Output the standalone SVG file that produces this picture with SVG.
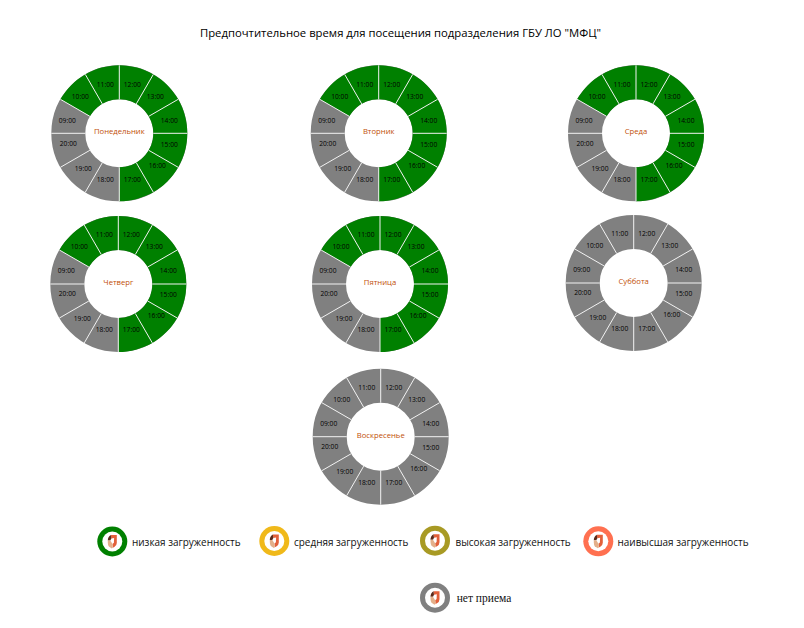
<svg xmlns="http://www.w3.org/2000/svg" xmlns:xlink="http://www.w3.org/1999/xlink" width="804" height="628" viewBox="0 0 804 628">
<style>
text{font-family:"Open Sans","Noto Sans","Liberation Sans",sans-serif}
.title{font-size:11.3px;fill:#000;text-anchor:middle}
.h{font-size:6.7px;fill:#000;text-anchor:middle}
.d{font-size:7.7px;fill:#bf4f08;text-anchor:middle}
.l{font-size:9.95px;fill:#111}
.s{font-family:"Liberation Serif",serif;font-size:11.5px;fill:#111}
.gray{fill:none;stroke:#808080;stroke-width:34}
.green{fill:#008000}
.sp{stroke:#f2f2f2;stroke-width:1}
</style>
<defs>
<circle id="ring" class="gray" r="51"/>
<path id="arc" class="green" d="M-58.89-34A68 68 0 1 1 0 68L0 34A34 34 0 1 0-29.44-17Z"/>
<g id="spokes" class="sp">
<path d="M0-34V-68M17-29.44L34-58.89M29.44-17L58.89-34M34 0H68M29.44 17L58.89 34M17 29.44L34 58.89M0 34V68M-17 29.44L-34 58.89M-29.44 17L-58.89 34M-34 0H-68M-29.44-17L-58.89-34M-17-29.44L-34-58.89"/>
</g>
<g id="logo">
<circle r="10" fill="#fff"/>
<path fill="#e2603a" d="M-1.5-6.5L4.5-6.5L4.5 1.5Q4.5 4 2 5.5L.5 6.3L.2 2.5L1.6 1.2L1.8-3.5L-1-3Z"/>
<path fill="#5a2a1a" d="M-4.5-1Q-4.5-5-1.5-6.5L-1-3L-2-1Z"/>
<path fill="#e3b08a" d="M-4.5-1L-2-1L.2 2.5L.5 6.3L-.5 7L-3.5 5Q-4.5 3.5-4.5 1Z"/>
</g>
</defs>
<rect width="804" height="628" fill="#fff"/>
<text id="title" class="title" x="400.5" y="37">Предпочтительное время для посещения подразделения ГБУ ЛО "МФЦ"</text>
<g id="connectors"/>

<g id="mon" transform="translate(119.3 133.3)">
<use href="#ring"/><use href="#arc"/><use href="#spokes"/>
<text class="d" x="0" y="1">Понедельник</text>
<text class="h" x="13" y="-46.7">12:00</text><text class="h" x="36" y="-34.7">13:00</text><text class="h" x="50" y="-10.7">14:00</text><text class="h" x="50" y="13.3">15:00</text><text class="h" x="38" y="34.3">16:00</text><text class="h" x="13" y="48.3">17:00</text><text class="h" x="-14" y="48.3">18:00</text><text class="h" x="-36" y="37.3">19:00</text><text class="h" x="-51" y="12.3">20:00</text><text class="h" x="-52" y="-10.7">09:00</text><text class="h" x="-39" y="-34.7">10:00</text><text class="h" x="-14" y="-46.7">11:00</text>
</g>
<g id="tue" transform="translate(378.7 133.3)">
<use href="#ring"/><use href="#arc"/><use href="#spokes"/>
<text class="d" x="0" y="1">Вторник</text>
<text class="h" x="13" y="-46.7">12:00</text><text class="h" x="36" y="-34.7">13:00</text><text class="h" x="50" y="-10.7">14:00</text><text class="h" x="50" y="13.3">15:00</text><text class="h" x="38" y="34.3">16:00</text><text class="h" x="13" y="48.3">17:00</text><text class="h" x="-14" y="48.3">18:00</text><text class="h" x="-36" y="37.3">19:00</text><text class="h" x="-51" y="12.3">20:00</text><text class="h" x="-52" y="-10.7">09:00</text><text class="h" x="-39" y="-34.7">10:00</text><text class="h" x="-14" y="-46.7">11:00</text>
</g>
<g id="wed" transform="translate(636 133.3)">
<use href="#ring"/><use href="#arc"/><use href="#spokes"/>
<text class="d" x="0" y="1">Среда</text>
<text class="h" x="13" y="-46.7">12:00</text><text class="h" x="36" y="-34.7">13:00</text><text class="h" x="50" y="-10.7">14:00</text><text class="h" x="50" y="13.3">15:00</text><text class="h" x="38" y="34.3">16:00</text><text class="h" x="13" y="48.3">17:00</text><text class="h" x="-14" y="48.3">18:00</text><text class="h" x="-36" y="37.3">19:00</text><text class="h" x="-51" y="12.3">20:00</text><text class="h" x="-52" y="-10.7">09:00</text><text class="h" x="-39" y="-34.7">10:00</text><text class="h" x="-14" y="-46.7">11:00</text>
</g>
<g id="thu" transform="translate(118.3 284)">
<use href="#ring"/><use href="#arc"/><use href="#spokes"/>
<text class="d" x="0" y="1">Четверг</text>
<text class="h" x="13" y="-46.7">12:00</text><text class="h" x="36" y="-34.7">13:00</text><text class="h" x="50" y="-10.7">14:00</text><text class="h" x="50" y="13.3">15:00</text><text class="h" x="38" y="34.3">16:00</text><text class="h" x="13" y="48.3">17:00</text><text class="h" x="-14" y="48.3">18:00</text><text class="h" x="-36" y="37.3">19:00</text><text class="h" x="-51" y="12.3">20:00</text><text class="h" x="-52" y="-10.7">09:00</text><text class="h" x="-39" y="-34.7">10:00</text><text class="h" x="-14" y="-46.7">11:00</text>
</g>
<g id="fri" transform="translate(380 284)">
<use href="#ring"/><use href="#arc"/><use href="#spokes"/>
<text class="d" x="0" y="1">Пятница</text>
<text class="h" x="13" y="-46.7">12:00</text><text class="h" x="36" y="-34.7">13:00</text><text class="h" x="50" y="-10.7">14:00</text><text class="h" x="50" y="13.3">15:00</text><text class="h" x="38" y="34.3">16:00</text><text class="h" x="13" y="48.3">17:00</text><text class="h" x="-14" y="48.3">18:00</text><text class="h" x="-36" y="37.3">19:00</text><text class="h" x="-51" y="12.3">20:00</text><text class="h" x="-52" y="-10.7">09:00</text><text class="h" x="-39" y="-34.7">10:00</text><text class="h" x="-14" y="-46.7">11:00</text>
</g>
<g id="sat" transform="translate(633.7 283)">
<use href="#ring"/><use href="#spokes"/>
<text class="d" x="0" y="1">Суббота</text>
<text class="h" x="13" y="-46.7">12:00</text><text class="h" x="36" y="-34.7">13:00</text><text class="h" x="50" y="-10.7">14:00</text><text class="h" x="50" y="13.3">15:00</text><text class="h" x="38" y="34.3">16:00</text><text class="h" x="13" y="48.3">17:00</text><text class="h" x="-14" y="48.3">18:00</text><text class="h" x="-36" y="37.3">19:00</text><text class="h" x="-51" y="12.3">20:00</text><text class="h" x="-52" y="-10.7">09:00</text><text class="h" x="-39" y="-34.7">10:00</text><text class="h" x="-14" y="-46.7">11:00</text>
</g>
<g id="sun" transform="translate(380.7 436.7)">
<use href="#ring"/><use href="#spokes"/>
<text class="d" x="0" y="1">Воскресенье</text>
<text class="h" x="13" y="-46.7">12:00</text><text class="h" x="36" y="-34.7">13:00</text><text class="h" x="50" y="-10.7">14:00</text><text class="h" x="50" y="13.3">15:00</text><text class="h" x="38" y="34.3">16:00</text><text class="h" x="13" y="48.3">17:00</text><text class="h" x="-14" y="48.3">18:00</text><text class="h" x="-36" y="37.3">19:00</text><text class="h" x="-51" y="12.3">20:00</text><text class="h" x="-52" y="-10.7">09:00</text><text class="h" x="-39" y="-34.7">10:00</text><text class="h" x="-14" y="-46.7">11:00</text>
</g>

<g id="legend-low"><circle cx="112.3" cy="541.5" r="15" fill="#008000"/><use href="#logo" x="112.3" y="541.5"/><text class="l" x="132" y="545.5">низкая загруженность</text></g>
<g id="legend-mid"><circle cx="274.3" cy="541" r="15" fill="#f0b91a"/><use href="#logo" x="274.3" y="541"/><text class="l" x="294" y="545.5">средняя загруженность</text></g>
<g id="legend-high"><circle cx="435" cy="540.7" r="15" fill="#a89a24"/><use href="#logo" x="435" y="540.7"/><text class="l" x="455.5" y="545.5">высокая загруженность</text></g>
<g id="legend-top"><circle cx="598.3" cy="541.3" r="15" fill="#ff7050"/><use href="#logo" x="598.3" y="541.3"/><text class="l" x="617.5" y="545.5">наивысшая загруженность</text></g>
<g id="legend-none"><circle cx="435" cy="597.7" r="15" fill="#808080"/><use href="#logo" x="435" y="597.7"/><text class="s" x="456.7" y="602">нет приема</text></g>
</svg>
